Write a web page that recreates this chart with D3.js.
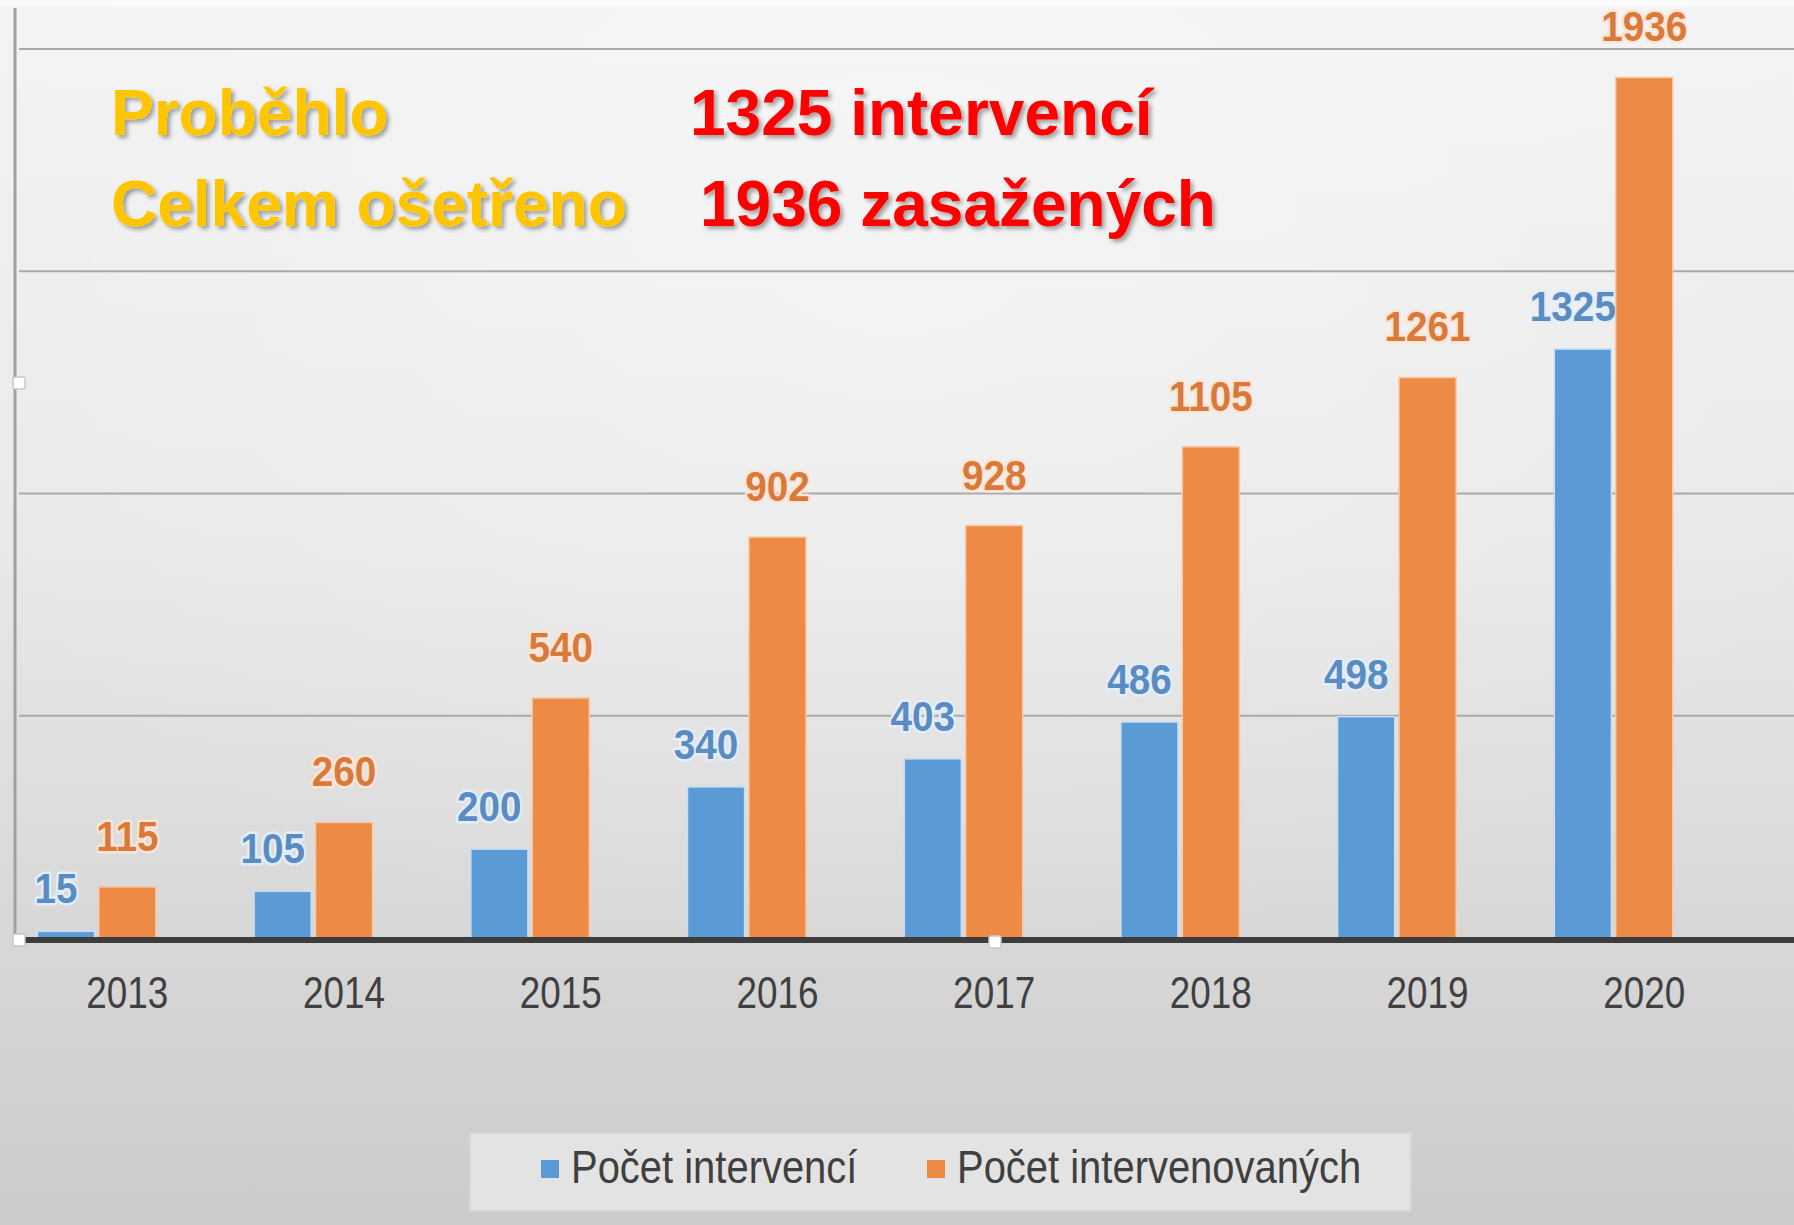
<!DOCTYPE html>
<html lang="cs">
<head>
  <meta charset="UTF-8">
  <title>Intervence 2013-2020</title>
  <script src="https://d3js.org/d3.v7.min.js"></script>
  <style>
    body { margin: 0; }
    svg { display: block; }
  </style>
</head>
<body>
  <div id="chart"></div>

  <script type="text/javascript">

  // data
  var years = ["2013", "2014", "2015", "2016", "2017", "2018", "2019", "2020"];
  var intervence = [15, 105, 200, 340, 403, 486, 498, 1325];
  var osoby = [115, 260, 540, 902, 928, 1105, 1261, 1936];
  var seriesNames = ["Počet intervencí", "Počet intervenovaných"];
  var yTicks = [0, 500, 1000, 1500, 2000];
  var titleLines = [["Proběhlo", "1325 intervencí"], ["Celkem ošetřeno", "1936 zasažených"]];

  var w = 1794, h = 1225;
  var baseY = 938, topY = 49, leftX = 19;
  var narrow = 0.82; // calibri-ish squeeze

  var svg = d3.select("#chart").append("svg")
    .attr("width", w)
    .attr("height", h);

  var defs = svg.append("defs");
  var bg = defs.append("linearGradient").attr("id", "bg")
    .attr("x1", 0).attr("y1", 0).attr("x2", 0).attr("y2", 1);
  bg.append("stop").attr("offset", "0%").attr("stop-color", "#f3f3f3");
  bg.append("stop").attr("offset", "45%").attr("stop-color", "#e8e8e8");
  bg.append("stop").attr("offset", "100%").attr("stop-color", "#cbcbcb");

  var glow = defs.append("radialGradient").attr("id", "glow")
    .attr("cx", "50%").attr("cy", "20%").attr("r", "60%");
  glow.append("stop").attr("offset", "0%").attr("stop-color", "#ffffff").attr("stop-opacity", 0.35);
  glow.append("stop").attr("offset", "100%").attr("stop-color", "#ffffff").attr("stop-opacity", 0);

  var shadow = defs.append("filter").attr("id", "shadow")
    .attr("x", "-10%").attr("y", "-20%").attr("width", "130%").attr("height", "150%");
  shadow.append("feDropShadow")
    .attr("dx", 3).attr("dy", 3).attr("stdDeviation", 2)
    .attr("flood-color", "#000").attr("flood-opacity", 0.35);

  svg.append("rect").attr("width", w).attr("height", h).attr("fill", "url(#bg)");
  svg.append("rect").attr("width", w).attr("height", h).attr("fill", "url(#glow)");
  svg.append("rect").attr("width", w).attr("height", 6).attr("fill", "#fbfbfb");

  var x = d3.scaleBand()
    .domain(years)
    .range([leftX, leftX + 8 * 216.7])
    .paddingInner(0.17)
    .paddingOuter(0.085);

  // third slot stays empty, so the year sits under the orange bar
  var xSub = d3.scaleBand()
    .domain(["a", "b", "c"])
    .range([0, x.bandwidth()])
    .paddingInner(0.07);

  var y = d3.scaleLinear()
    .domain([0, 2000])
    .range([baseY, topY]);

  // gridlines
  svg.append("g")
    .selectAll("line")
    .data(yTicks.slice(1))
    .enter()
    .append("line")
    .attr("x1", leftX)
    .attr("x2", w)
    .attr("y1", d => y(d))
    .attr("y2", d => y(d))
    .attr("stroke", "#a9a9a9")
    .attr("stroke-width", 2);

  // left axis line
  svg.append("line")
    .attr("x1", 15).attr("x2", 15)
    .attr("y1", 8).attr("y2", baseY)
    .attr("stroke", "#a0a0a0")
    .attr("stroke-width", 3);

  var series = [
    { key: "a", values: intervence, fill: "#5b9bd5", edge: "#c9def2", text: "#5a8cc2", halo: "#e3eefa", dx: -10, dy: -28 },
    { key: "b", values: osoby, fill: "#ed8a45", edge: "#f9c9a3", text: "#d97a3c", halo: "#fbe6d6", dx: 0, dy: -36 }
  ];

  series.forEach(function(s) {
    var g = svg.append("g");
    g.selectAll("rect")
      .data(s.values)
      .enter()
      .append("rect")
      .attr("x", (d, i) => x(years[i]) + xSub(s.key))
      .attr("y", d => y(d))
      .attr("width", xSub.bandwidth())
      .attr("height", d => baseY - y(d))
      .attr("fill", s.fill)
      .attr("stroke", s.edge)
      .attr("stroke-width", 1.5);

    g.selectAll("text")
      .data(s.values)
      .enter()
      .append("text")
      .attr("transform", (d, i) => "translate(" + (x(years[i]) + xSub(s.key) + xSub.bandwidth() / 2 + s.dx) + "," + (y(d) + s.dy) + ") scale(0.9,1)")
      .attr("text-anchor", "middle")
      .attr("font-family", "'Liberation Sans', sans-serif")
      .attr("font-weight", "bold")
      .attr("font-size", 43)
      .attr("fill", s.text)
      .attr("stroke", s.halo)
      .attr("stroke-width", 5)
      .attr("stroke-linejoin", "round")
      .attr("paint-order", "stroke")
      .text(d => d);
  });

  // x axis baseline
  svg.append("line")
    .attr("x1", leftX).attr("x2", w)
    .attr("y1", baseY + 2).attr("y2", baseY + 2)
    .attr("stroke", "#3d3d3d")
    .attr("stroke-width", 6);

  var xAxis = d3.axisBottom(x).tickSize(0).tickPadding(0);
  var ax = svg.append("g")
    .attr("transform", "translate(0," + (baseY + 70) + ")")
    .call(xAxis);
  ax.select(".domain").remove();
  ax.selectAll("text")
    .attr("x", null)
    .attr("dy", 0)
    .attr("transform", "translate(" + (xSub("b") + xSub.bandwidth() / 2 - x.bandwidth() / 2) + ",0) scale(" + narrow + ",1)")
    .attr("font-family", "'Liberation Sans', sans-serif")
    .attr("font-size", 45)
    .attr("fill", "#404040");

  // selection handles
  var handles = [[19, baseY + 2], [19, 383], [995, baseY + 4]];
  svg.append("g")
    .selectAll("rect")
    .data(handles)
    .enter()
    .append("rect")
    .attr("x", d => d[0] - 6)
    .attr("y", d => d[1] - 6)
    .attr("width", 12)
    .attr("height", 12)
    .attr("rx", 2)
    .attr("fill", "#ffffff")
    .attr("stroke", "#c8c8c8")
    .attr("stroke-width", 1.5);

  // legend
  var legend = svg.append("g");
  legend.append("rect")
    .attr("x", 470).attr("y", 1133)
    .attr("width", 941).attr("height", 78)
    .attr("fill", "#e3e3e3")
    .attr("stroke", "#d6d6d6")
    .attr("stroke-width", 2);
  var legendX = [541, 927];
  seriesNames.forEach(function(name, i) {
    legend.append("rect")
      .attr("x", legendX[i]).attr("y", 1160)
      .attr("width", 18).attr("height", 18)
      .attr("fill", series[i].fill);
    legend.append("text")
      .attr("transform", "translate(" + (legendX[i] + 30) + ",1183) scale(0.85,1)")
      .attr("font-family", "'Liberation Sans', sans-serif")
      .attr("font-size", 47)
      .attr("fill", "#404040")
      .text(name);
  });

  // headline
  var head = svg.append("g")
    .attr("font-family", "'Liberation Sans', Arial, sans-serif")
    .attr("font-weight", "bold")
    .attr("font-size", 64)
    .attr("filter", "url(#shadow)");
  var headY = [135, 226];
  var headX = [[111, 690], [111, 700]];
  titleLines.forEach(function(line, i) {
    head.append("text")
      .attr("x", headX[i][0]).attr("y", headY[i])
      .attr("fill", "#ffc600")
      .text(line[0]);
    head.append("text")
      .attr("x", headX[i][1]).attr("y", headY[i])
      .attr("fill", "#ff0000")
      .text(line[1]);
  });

  </script>
</body>
</html>
